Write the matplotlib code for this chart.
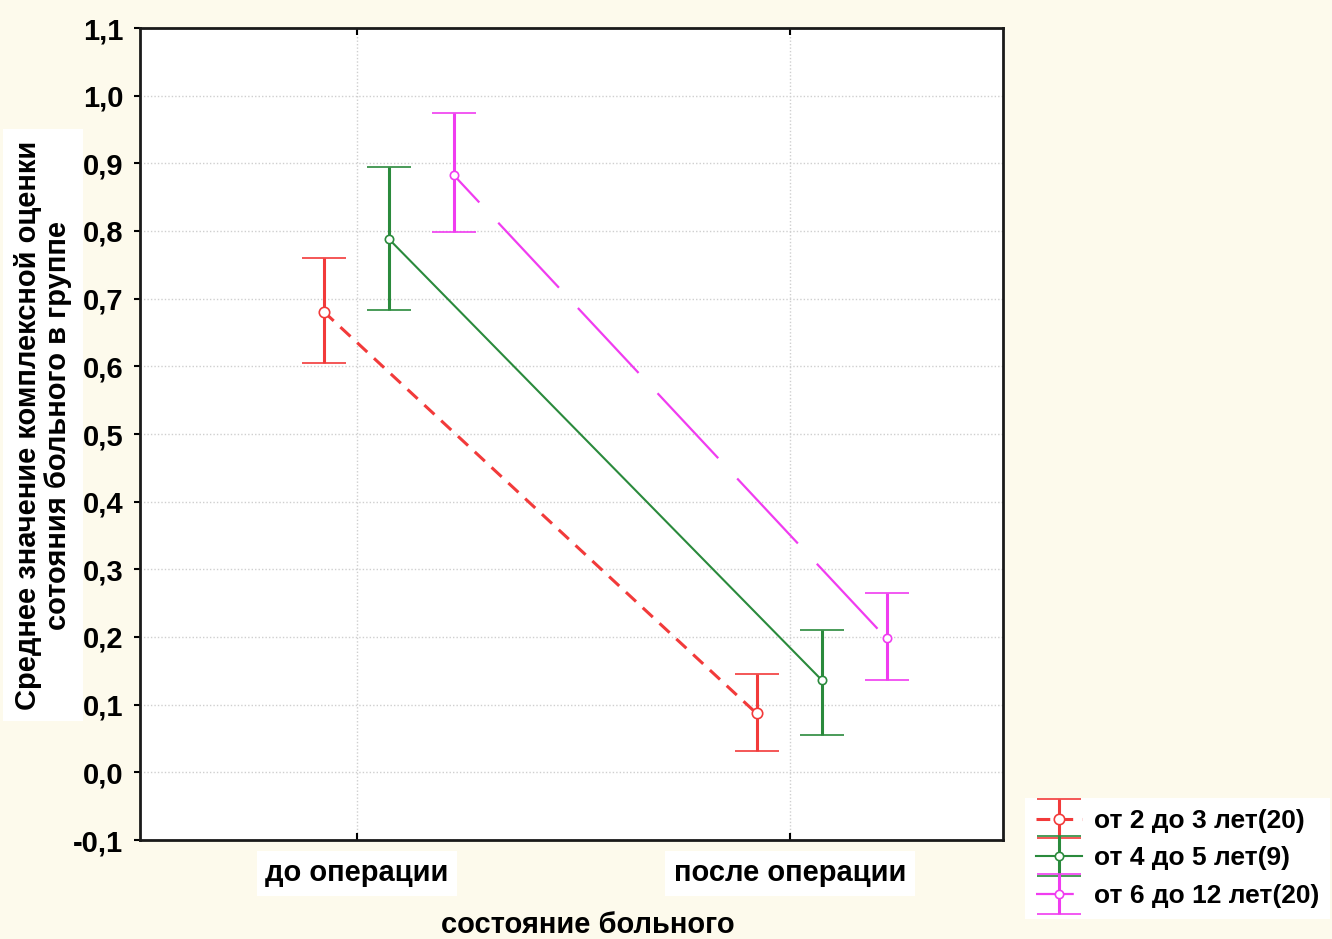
import matplotlib
matplotlib.use("Agg")
import matplotlib.pyplot as plt
from matplotlib.ticker import FuncFormatter, FixedLocator
from matplotlib.legend_handler import HandlerErrorbar

plt.rcParams['font.family'] = ['Liberation Sans', 'DejaVu Sans']
plt.rcParams['font.weight'] = 'bold'

# ---- data ----
categories = ["до операции", "после операции"]
series_names = ["от 2 до 3 лет(20)", "от 4 до 5 лет(9)", "от 6 до 12 лет(20)"]
means = [
    [0.681, 0.087],
    [0.788, 0.136],
    [0.883, 0.198],
]
upper = [
    [0.760, 0.146],
    [0.895, 0.211],
    [0.975, 0.265],
]
lower = [
    [0.605, 0.032],
    [0.683, 0.055],
    [0.798, 0.136],
]
y_ticks = [-0.1, 0.0, 0.1, 0.2, 0.3, 0.4, 0.5, 0.6, 0.7, 0.8, 0.9, 1.0, 1.1]
ylabel = "Среднее значение комплексной оценки\nсотояния больного в группе"
xlabel = "состояние больного"

# ---- style ----
colors = ["#f23a3a", "#2a8a3c", "#f03cf0"]
offsets = [-0.077, 0.074, 0.223]
styles = [(0, (4.5, 3.0)), '-', (23, (40, 12.5))]
lws = [2.2, 1.5, 1.6]
marker_sizes = [7.5, 6, 6]
bg = "#fdfaec"

fig = plt.figure(figsize=(13.32, 9.39), dpi=100, facecolor=bg)
ax = fig.add_axes([140/1332, 1-840/939, 863/1332, 812/939])
ax.set_facecolor("white")

handles = []
for i in range(3):
    xs = [k + offsets[i] for k in range(len(categories))]
    ys = means[i]
    yerr = [[m - l for m, l in zip(means[i], lower[i])],
            [u - m for m, u in zip(means[i], upper[i])]]
    eb = ax.errorbar(xs, ys, yerr=yerr, color=colors[i], linestyle=styles[i],
                     linewidth=lws[i], elinewidth=2.2, capsize=15.5, capthick=2.2,
                     marker='o', markersize=marker_sizes[i], markerfacecolor='white',
                     markeredgecolor=colors[i], markeredgewidth=1.2,
                     label=series_names[i], zorder=3)
    handles.append(eb)

ax.set_xlim(-0.501, 1.492)
ax.set_ylim(-0.1, 1.1)
ax.yaxis.set_major_locator(FixedLocator(y_ticks))
ax.yaxis.set_major_formatter(FuncFormatter(lambda v, p: f"{v:.1f}".replace('.', ',')))
ax.set_xticks(range(len(categories)))
ax.set_xticklabels(categories)

ax.grid(True, color="#cfcfcf", linestyle=(0, (1, 1.5)), linewidth=1.0, zorder=0)
for s in ax.spines.values():
    s.set_linewidth(2.0)
    s.set_color("#1a1a1a")

ax.tick_params(axis='y', direction='out', length=4, width=1.5, labelsize=21, pad=8)
ax.tick_params(axis='x', direction='in', length=5, width=1.5, labelsize=21, pad=14,
               top=True, bottom=True)
for t in ax.get_xticklabels():
    t.set_bbox(dict(facecolor='white', edgecolor='none', pad=6))

fig.text(43/1332, 1-425/939, ylabel, rotation=90, ha='center', va='center',
         fontsize=21, multialignment='center', linespacing=1.12,
         bbox=dict(facecolor='white', edgecolor='none', pad=8))
fig.text(588/1332, 1-925/939, xlabel, ha='center', va='center', fontsize=21)

leg = fig.legend(handles=handles, loc='upper left',
                 bbox_to_anchor=(1012/1332, 1-785/939),
                 fontsize=19, frameon=True, facecolor='white', edgecolor='none',
                 framealpha=1, fancybox=False, handlelength=1.75, handletextpad=0.45,
                 labelspacing=0.52, borderpad=0.4,
                 handler_map={type(handles[0]): HandlerErrorbar(yerr_size=0.75)})

fig.savefig("out.png", dpi=100, facecolor=bg)
